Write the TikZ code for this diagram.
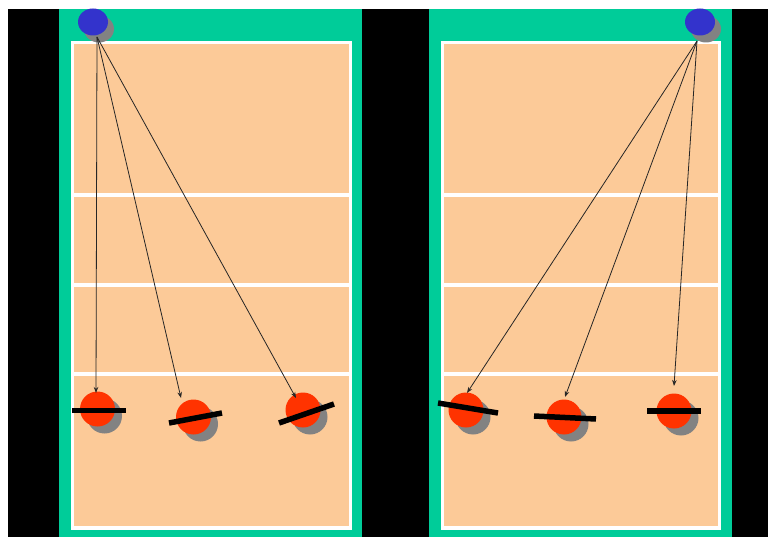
\documentclass[tikz,border=0pt]{standalone}
\usetikzlibrary{arrows.meta,shapes.geometric}
\definecolor{court}{RGB}{252,202,152}
\definecolor{grn}{RGB}{0,204,153}
\definecolor{redball}{RGB}{255,51,0}
\definecolor{blueball}{RGB}{51,51,204}
\definecolor{shad}{RGB}{130,130,130}
\begin{document}
\begin{tikzpicture}[x=1pt,y=-1pt,
  courtline/.style={white,line width=3.5pt},
  player/.style={circle,fill=redball,inner sep=0pt,minimum size=35pt},
  pshadow/.style={circle,fill=shad,inner sep=0pt,minimum size=35pt},
  server/.style={ellipse,fill=blueball,inner sep=0pt,minimum width=30pt,minimum height=27pt},
  sshadow/.style={ellipse,fill=shad,inner sep=0pt,minimum width=30pt,minimum height=27pt},
  bar/.style={black,line width=5.5pt},
  serve/.style={draw=black!85,line width=0.8pt,-{Stealth[length=6pt,width=4.5pt]}}]
\useasboundingbox (0,0) rectangle (768,537);
\fill[white] (0,0) rectangle (768,537);
\fill[black] (8,9) rectangle (768,537);
% left court
\fill[grn] (59,9) rectangle (362,537);
\fill[court] (72.5,42.5) rectangle (350.5,528);
\draw[courtline] (72.5,42.5) rectangle (350.5,528);
\draw[courtline] (72.5,195) -- (350.5,195);
\draw[courtline] (72.5,285) -- (350.5,285);
\draw[courtline] (72.5,374) -- (350.5,374);
% right court
\fill[grn] (429,9) rectangle (732,537);
\fill[court] (442.5,42.5) rectangle (719.5,528);
\draw[courtline] (442.5,42.5) rectangle (719.5,528);
\draw[courtline] (442.5,195) -- (719.5,195);
\draw[courtline] (442.5,285) -- (719.5,285);
\draw[courtline] (442.5,374) -- (719.5,374);
% servers
\node[sshadow] (ssl) at (99,29) {};
\node[server] (sl) at (93,22) {};
\node[sshadow] (ssr) at (706,29) {};
\node[server] (sr) at (700,22) {};
\coordinate (ol) at (97,37);
\coordinate (or) at (697,41);
% left players
\node[pshadow] (psl1) at (104.5,416) {};
\node[player] (pl1) at (97.5,409) {};
\node[pshadow] (psl2) at (200.5,424) {};
\node[player] (pl2) at (193.5,417) {};
\node[pshadow] (psl3) at (310,417) {};
\node[player] (pl3) at (303,410) {};
\draw[bar] (72,410.5) -- (126,410.5);
\draw[bar] (169,423) -- (222,413);
\draw[bar] (279,423) -- (334,404);
% right players
\node[pshadow] (psr1) at (473,417) {};
\node[player] (pr1) at (466,410) {};
\node[pshadow] (psr2) at (571,424) {};
\node[player] (pr2) at (564,417) {};
\node[pshadow] (psr3) at (681,418) {};
\node[player] (pr3) at (674,411) {};
\draw[bar] (438,403) -- (498,413);
\draw[bar] (534,416) -- (596,419);
\draw[bar] (647,411) -- (701,411);
% arrow tips
\coordinate (tl1) at (96,393);
\coordinate (tl2) at (181,398);
\coordinate (tl3) at (296,398);
\coordinate (tr1) at (467,393);
\coordinate (tr2) at (565,397);
\coordinate (tr3) at (674,386);
\draw[serve] (ol) -- (tl1);
\draw[serve] (ol) -- (tl2);
\draw[serve] (ol) -- (tl3);
\draw[serve] (or) -- (tr1);
\draw[serve] (or) -- (tr2);
\draw[serve] (or) -- (tr3);
\end{tikzpicture}
\end{document}
